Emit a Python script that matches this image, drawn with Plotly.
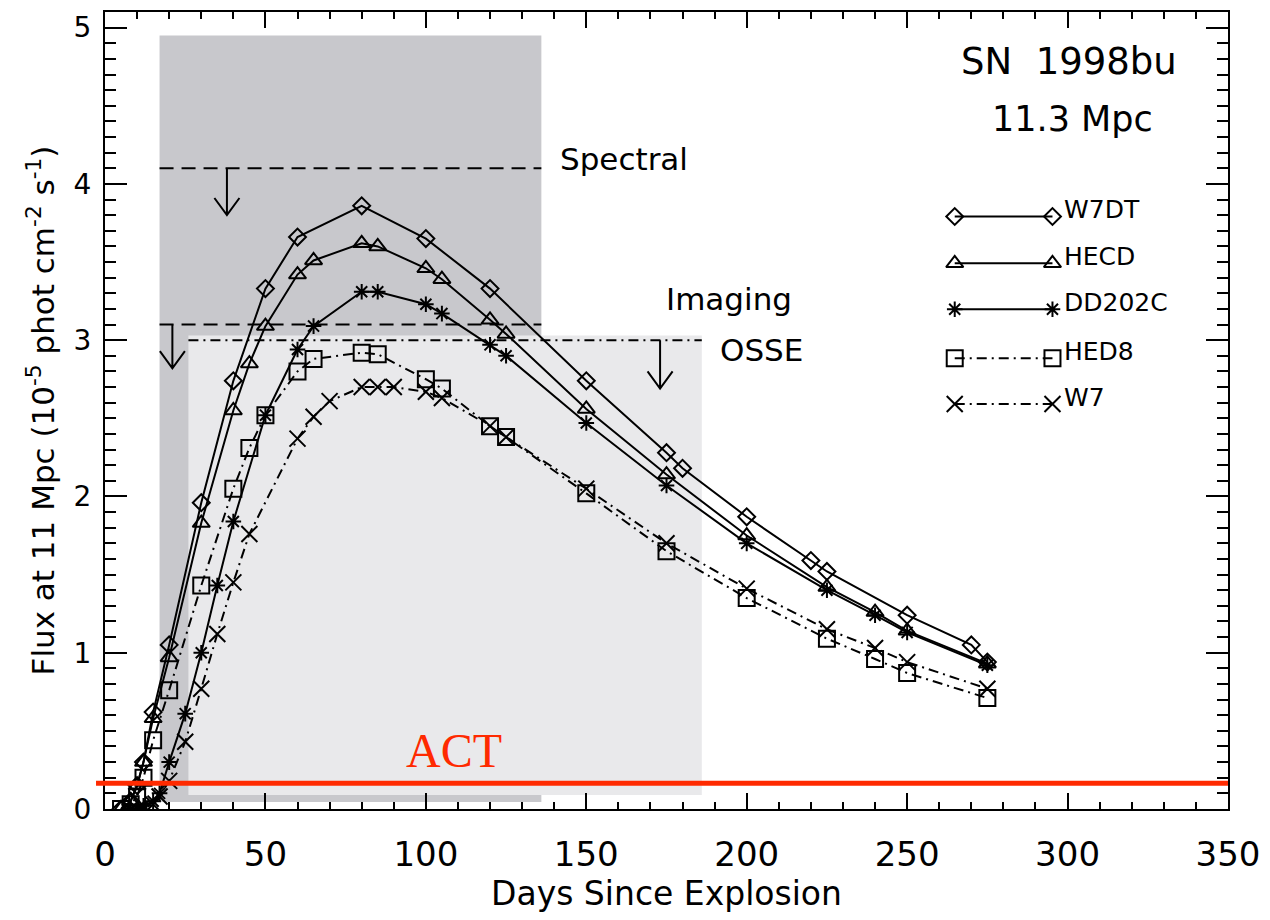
import plotly.graph_objects as go

# ---- model light curves (days since explosion, flux in 1e-5 phot cm^-2 s^-1) ----
w7dt_days = [5, 8, 10, 12, 15, 20, 30, 40, 50, 60, 80, 100, 120, 150, 175, 180, 200, 220, 225, 250, 270, 275]
w7dt_flux = [0.0, 0.05, 0.15, 0.30, 0.62, 1.05, 1.96, 2.74, 3.33, 3.66, 3.86, 3.65, 3.33, 2.74, 2.28, 2.18, 1.87, 1.59, 1.52, 1.24, 1.05, 0.94]

hecd_days = [5, 8, 10, 12, 15, 20, 30, 40, 45, 50, 60, 65, 80, 85, 100, 105, 120, 125, 150, 175, 200, 225, 240, 250, 275]
hecd_flux = [0.0, 0.05, 0.15, 0.30, 0.58, 0.97, 1.83, 2.55, 2.85, 3.09, 3.42, 3.51, 3.62, 3.60, 3.46, 3.39, 3.13, 3.04, 2.56, 2.14, 1.75, 1.42, 1.26, 1.14, 0.93]

dd202c_days = [8, 10, 12, 15, 17, 20, 25, 30, 35, 40, 50, 60, 65, 80, 85, 100, 105, 120, 125, 150, 175, 200, 225, 240, 250, 275]
dd202c_flux = [0.0, 0.0, 0.02, 0.05, 0.10, 0.30, 0.61, 1.00, 1.43, 1.84, 2.52, 2.94, 3.09, 3.31, 3.31, 3.23, 3.17, 2.97, 2.90, 2.47, 2.07, 1.70, 1.40, 1.24, 1.13, 0.92]

hed8_days = [5, 8, 10, 12, 15, 20, 30, 40, 45, 50, 60, 65, 80, 85, 100, 105, 120, 125, 150, 175, 200, 225, 240, 250, 275]
hed8_flux = [0.0, 0.03, 0.08, 0.20, 0.44, 0.76, 1.43, 2.05, 2.31, 2.52, 2.80, 2.88, 2.92, 2.91, 2.75, 2.69, 2.45, 2.38, 2.02, 1.65, 1.35, 1.09, 0.96, 0.87, 0.71]

w7_days = [8, 10, 12, 15, 17, 20, 25, 30, 35, 40, 45, 60, 65, 70, 80, 85, 90, 100, 105, 120, 125, 150, 175, 200, 225, 240, 250, 275]
w7_flux = [0.0, 0.0, 0.0, 0.03, 0.08, 0.18, 0.43, 0.77, 1.12, 1.45, 1.76, 2.37, 2.51, 2.61, 2.70, 2.70, 2.70, 2.67, 2.63, 2.45, 2.38, 2.05, 1.70, 1.41, 1.15, 1.03, 0.94, 0.77]

model_names = ["W7DT", "HECD", "DD202C", "HED8", "W7"]

# ---- instrument sensitivity windows: [day start, day end, flux low, flux high] ----
spectral_box = [17, 136, 0.045, 4.95]
osse_box = [26, 186, 0.09, 3.03]

# ---- upper-limit levels: (label, level, day start, day end, arrow day) ----
spectral_limit = ("Spectral", 4.1, 17, 136, 38)
imaging_limit = ("Imaging", 3.1, 17, 136, 21)
osse_limit = ("OSSE", 3.0, 26, 186, 173)

act_level = 0.165

solid = dict(color="black", width=2)
dashdot = dict(color="black", width=2, dash="10px,5px,2px,5px")

styles = [
    (w7dt_days, w7dt_flux, "diamond-open", 13, solid),
    (hecd_days, hecd_flux, "triangle-up-open", 15, solid),
    (dd202c_days, dd202c_flux, "asterisk-open", 13, solid),
    (hed8_days, hed8_flux, "square-open", 16, dashdot),
    (w7_days, w7_flux, "x-thin-open", 16, dashdot),
]

fig = go.Figure()

# shaded sensitivity windows (dark behind, light in front)
fig.add_shape(type="rect", xref="x", yref="y", layer="below", line_width=0,
              x0=spectral_box[0], x1=spectral_box[1], y0=spectral_box[2], y1=spectral_box[3],
              fillcolor="#c8c8cc")
fig.add_shape(type="rect", xref="x", yref="y", layer="below", line_width=0,
              x0=osse_box[0], x1=osse_box[1], y0=osse_box[2], y1=osse_box[3],
              fillcolor="#e9e9eb")

# limit lines
for (lab, lev, d0, d1, ad), dash in [(spectral_limit, "14px,8px"), (imaging_limit, "14px,8px"),
                                       (osse_limit, "10px,5px,2px,5px")]:
    fig.add_shape(type="line", xref="x", yref="y", x0=d0, x1=d1, y0=lev, y1=lev,
                  line=dict(color="black", width=2, dash=dash))

# downward arrows marking the limits
arrow_len = {"Spectral": 0.30, "Imaging": 0.28, "OSSE": 0.31}
hw, hh = 3.9, 0.11
for lab, lev, d0, d1, ad in [spectral_limit, imaging_limit, osse_limit]:
    tip = lev - arrow_len[lab]
    fig.add_shape(type="path", xref="x", yref="y",
                  path=f"M {ad},{lev} L {ad},{tip} M {ad - hw},{tip + hh} L {ad},{tip} L {ad + hw},{tip + hh}",
                  line=dict(color="black", width=2))

# ACT sensitivity line
fig.add_shape(type="line", xref="paper", yref="y", x0=-0.008, x1=1, y0=act_level, y1=act_level,
              line=dict(color="#ff2a00", width=5))

for (d, f, sym, sz, ln), name in zip(styles, model_names):
    fig.add_trace(go.Scatter(x=d, y=f, mode="lines+markers", name=name, line=ln,
                             marker=dict(symbol=sym, size=sz, color="black",
                                         line=dict(color="black", width=2)),
                             showlegend=False, xaxis="x", yaxis="y"))

# legend drawn on a pixel-scaled overlay axis
leg_rows = [215, 262, 308, 357, 403]
leg_x0, leg_x1 = 957, 1055
for (d, f, sym, sz, ln), name, ry in zip(styles, model_names, leg_rows):
    fig.add_trace(go.Scatter(x=[leg_x0, leg_x1], y=[ry, ry], mode="lines+markers", line=ln,
                             marker=dict(symbol=sym, size=sz, color="black",
                                         line=dict(color="black", width=2)),
                             showlegend=False, xaxis="x2", yaxis="y2", hoverinfo="skip"))
    fig.add_annotation(x=leg_x1 + 10, y=ry - 7, xref="x2", yref="y2", text=name, showarrow=False,
                       xanchor="left", yanchor="middle",
                       font=dict(family="DejaVu Sans", size=25, color="black"))

label_font = dict(family="DejaVu Sans", size=31, color="black")
fig.add_annotation(x=559, y=157, xref="x2", yref="y2", text=spectral_limit[0], showarrow=False,
                   xanchor="left", yanchor="middle", font=label_font)
fig.add_annotation(x=665, y=298, xref="x2", yref="y2", text=imaging_limit[0], showarrow=False,
                   xanchor="left", yanchor="middle", font=label_font)
fig.add_annotation(x=720, y=349, xref="x2", yref="y2", text=osse_limit[0], showarrow=False,
                   xanchor="left", yanchor="middle", font=label_font)

fig.add_annotation(x=1072, y=60, xref="x2", yref="y2", text="SN  1998bu", showarrow=False,
                   xanchor="center", yanchor="middle",
                   font=dict(family="DejaVu Sans", size=37, color="black"))
fig.add_annotation(x=1075, y=117, xref="x2", yref="y2", text="11.3 Mpc", showarrow=False,
                   xanchor="center", yanchor="middle",
                   font=dict(family="DejaVu Sans", size=35, color="black"))

fig.add_annotation(x=455, y=750, xref="x2", yref="y2", text="ACT", showarrow=False,
                   xanchor="center", yanchor="middle",
                   font=dict(family="Liberation Serif", size=48, color="#ff2a00"))

axis_common = dict(showline=True, linewidth=2, linecolor="black", mirror="ticks",
                   ticks="inside", tickwidth=2, tickcolor="black", showgrid=False, zeroline=False)

fig.update_layout(
    width=1270, height=920,
    margin=dict(l=105, r=39, t=10, b=111),
    paper_bgcolor="white", plot_bgcolor="white",
    showlegend=False,
    xaxis=dict(range=[0, 350], dtick=50, tick0=0, ticklen=16,
               minor=dict(dtick=10, ticklen=7, ticks="inside", tickcolor="black", tickwidth=2),
               tickfont=dict(family="DejaVu Sans", size=34, color="black"),
               ticklabelstandoff=14,
               title=dict(text="Days Since Explosion", standoff=8,
                          font=dict(family="DejaVu Sans", size=33, color="black")),
               **axis_common),
    yaxis=dict(range=[0, 5.1], dtick=1, tick0=0, ticklen=22,
               minor=dict(dtick=0.1, ticklen=11, ticks="inside", tickcolor="black", tickwidth=2),
               tickfont=dict(family="DejaVu Sans", size=28, color="black"),
               ticklabelstandoff=6,
               title=dict(text="Flux at 11 Mpc (10<sup>-5</sup> phot cm<sup>-2</sup> s<sup>-1</sup>)",
                          standoff=10, font=dict(family="DejaVu Sans", size=31, color="black")),
               **axis_common),
    xaxis2=dict(overlaying="x", range=[105, 1231], visible=False, fixedrange=True),
    yaxis2=dict(overlaying="y", range=[809, 10], visible=False, fixedrange=True),
)

fig.write_html("out.html")
